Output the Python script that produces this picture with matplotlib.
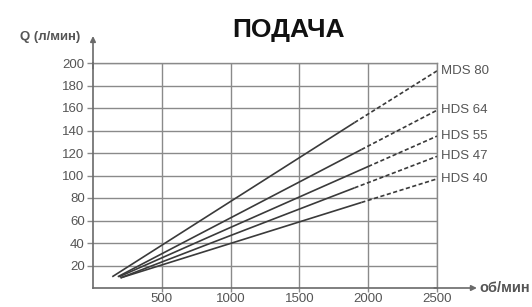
import matplotlib
matplotlib.use("Agg")
import matplotlib.pyplot as plt

plt.rcParams['font.family'] = ['Liberation Sans', 'DejaVu Sans']

# values: start point, end of solid part, end at 2500 rpm
names = ["MDS 80", "HDS 64", "HDS 55", "HDS 47", "HDS 40"]
rpm_pts = [[140, 1900, 2500],
           [180, 1950, 2500],
           [190, 2000, 2500],
           [200, 1900, 2500],
           [200, 1950, 2500]]
q_pts = [[10, 147, 193],
         [10, 123, 158],
         [10, 108, 135],
         [9, 89, 117],
         [9, 76, 97]]

x_ticks = [500, 1000, 1500, 2000, 2500]
y_ticks = [20, 40, 60, 80, 100, 120, 140, 160, 180, 200]

W, H = 532, 307
fig = plt.figure(figsize=(W / 100, H / 100), dpi=100)
ax = fig.add_axes([93 / W, 1 - 288 / H, 344 / W, 225 / H])
ax.set_xlim(0, 2500)
ax.set_ylim(0, 200)

grid_c = '#8a8a8a'
line_c = '#3a3a3a'
text_c = '#555555'

ax.set_xticks(x_ticks)
ax.set_yticks(y_ticks)
ax.grid(True, color=grid_c, lw=1.0)
ax.tick_params(axis='both', colors=grid_c, labelcolor=text_c, labelsize=9.5,
               length=4, width=1.0)
ax.tick_params(axis='x', length=3, pad=0.5)
ax.tick_params(axis='y', pad=2)
for s in ['top', 'right']:
    ax.spines[s].set_color(grid_c)
    ax.spines[s].set_linewidth(1.0)
for s in ['left', 'bottom']:
    ax.spines[s].set_color('#6a6a6a')
    ax.spines[s].set_linewidth(1.2)

for name, xs, qs in zip(names, rpm_pts, q_pts):
    ax.plot(xs[:2], qs[:2], color=line_c, lw=1.2, solid_capstyle='butt')
    ax.plot(xs[1:], qs[1:], color=line_c, lw=1.2, ls=(0, (2.5, 1.5)))
    ax.text(2530, qs[-1], name, color=text_c, fontsize=9.5, va='center', ha='left')

# axis arrows
ax.annotate('', xy=(2790, 0), xytext=(2480, 0), annotation_clip=False,
            arrowprops=dict(arrowstyle='-|>', color='#6a6a6a', lw=1.2,
                            mutation_scale=8, shrinkA=0, shrinkB=0))
ax.annotate('', xy=(0, 224), xytext=(0, 195), annotation_clip=False,
            arrowprops=dict(arrowstyle='-|>', color='#6a6a6a', lw=1.2,
                            mutation_scale=8, shrinkA=0, shrinkB=0))

ax.text(2810, 0, 'об/мин', color=text_c, fontsize=10.5, fontweight='bold',
        va='center', ha='left')
ax.text(-95, 223, 'Q (л/мин)', color=text_c, fontsize=9.5, fontweight='bold',
        va='center', ha='right')

fig.text(289 / W, 1 - 30 / H, 'ПОДАЧА', fontsize=19, fontweight='bold',
         color='#111111', ha='center', va='center')

fig.savefig('out.png', dpi=100)
